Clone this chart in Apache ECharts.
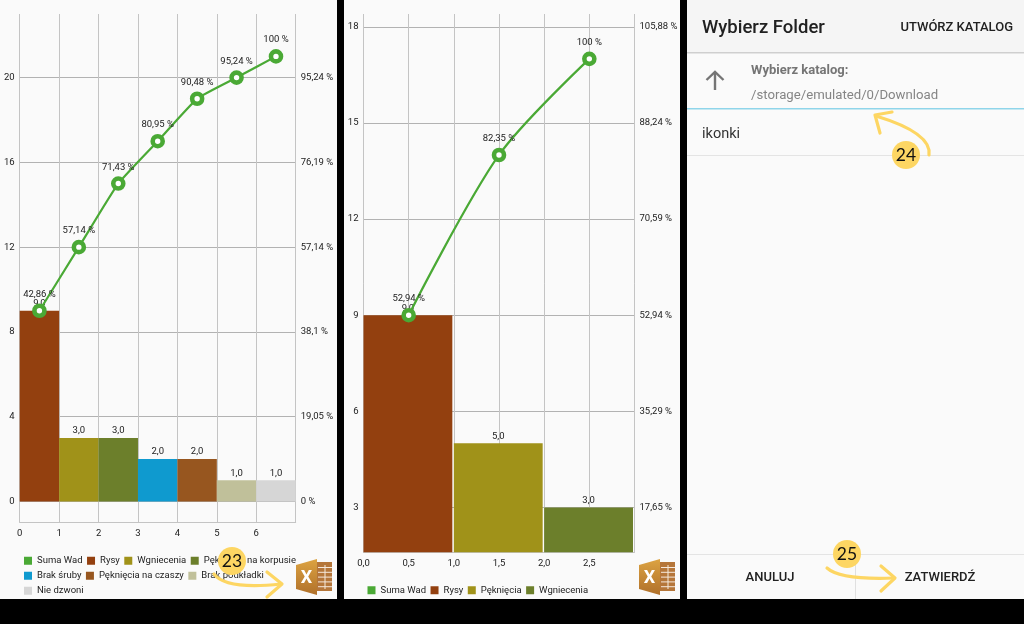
<!DOCTYPE html>
<html>
<head>
<meta charset="utf-8">
<style>
  html, body { margin: 0; padding: 0; background: #000; }
  #chart { width: 1024px; height: 624px; }
</style>
<script src="https://cdn.jsdelivr.net/npm/echarts@6/dist/echarts.min.js"></script>
</head>
<body>
<div id="chart"></div>
<script>
// left screen
const names1 = ["Rysy", "Wgniecenia", "Pęknięcia na korpusie", "Brak śruby", "Pęknięcia na czaszy", "Brak podkładki", "Nie dzwoni"];
const values1 = [9, 3, 3, 2, 2, 1, 1];
const colors1 = ["#93400f", "#a09219", "#6c7f2b", "#0f9acf", "#97561f", "#c0c09a", "#d6d6d6"];
const cumulative1 = [9, 12, 15, 17, 19, 20, 21];
const percents1 = ["42,86 %", "57,14 %", "71,43 %", "80,95 %", "90,48 %", "95,24 %", "100 %"];
const yTicks1 = [0, 4, 8, 12, 16, 20];
const yRight1 = ["0 %", "19,05 %", "38,1 %", "57,14 %", "76,19 %", "95,24 %"];
const xLabels1 = [0, 1, 2, 3, 4, 5, 6];
const xLines1 = [0, 1, 2, 3, 4, 5, 6, 7];

// middle screen
const names2 = ["Rysy", "Pęknięcia", "Wgniecenia"];
const values2 = [9, 5, 3];
const colors2 = ["#93400f", "#a09219", "#6c7f2b"];
const cumulative2 = [9, 14, 17];
const percents2 = ["52,94 %", "82,35 %", "100 %"];
const yTicks2 = [3, 6, 9, 12, 15, 18];
const yRight2 = ["17,65 %", "35,29 %", "52,94 %", "70,59 %", "88,24 %", "105,88 %"];
const xLabels2 = [0, 0.5, 1, 1.5, 2, 2.5];
const xLines2 = [0, 0.5, 1, 1.5, 2, 2.5, 3];

const totalName = "Suma Wad";
const green = "#4aa935";
const yellow = "#fdd663";
const textColor = "#222";
const font = "Roboto, sans-serif";

const chart = echarts.init(document.getElementById("chart"));

function comma(v) { return String(v).replace(".", ","); }

function barSeries(name, idx, value, color, axisIdx, yMin, gap) {
  return {
    name: name,
    type: "custom",
    xAxisIndex: axisIdx,
    yAxisIndex: axisIdx * 2,
    itemStyle: { color: color },
    data: [[idx, value]],
    z: 2,
    renderItem: function (params, api) {
      const x = api.value(0);
      const v = api.value(1);
      const a = api.coord([x, v]);
      const b = api.coord([x + 1, yMin]);
      return {
        type: "rect",
        shape: { x: a[0], y: a[1], width: b[0] - a[0] - gap, height: b[1] - a[1] },
        style: { fill: color },
        textContent: {
          style: { text: v.toFixed(1).replace(".", ","), font: "9.5px " + font, fill: textColor }
        },
        textConfig: { position: "top", distance: 2 }
      };
    }
  };
}

function lineSeries(cumulative, percents, axisIdx, smooth) {
  return {
    name: totalName,
    type: "line",
    xAxisIndex: axisIdx,
    yAxisIndex: axisIdx * 2,
    data: cumulative.map((v, i) => [i + 0.5, v]),
    smooth: smooth,
    symbol: "circle",
    symbolSize: 10,
    z: 3,
    lineStyle: { color: green, width: 2.2 },
    itemStyle: { color: "#fff", borderColor: green, borderWidth: 4.6 },
    label: {
      show: true,
      position: "top",
      distance: 4,
      color: textColor,
      fontFamily: font,
      fontSize: 9.5,
      formatter: p => percents[p.dataIndex]
    }
  };
}

function xAxis(gridIndex, max, lines, labels, fmt) {
  return {
    type: "value", gridIndex: gridIndex, min: 0, max: max,
    axisLine: { show: true, onZero: false, lineStyle: { color: "#c4c4c4", width: 1 } },
    axisTick: { show: false, customValues: lines },
    splitLine: { show: true, lineStyle: { color: "#c4c4c4", width: 1 } },
    axisLabel: { customValues: labels, margin: 6, color: textColor, fontFamily: font, fontSize: 9.5, formatter: fmt }
  };
}

function yAxis(gridIndex, pos, min, max, ticks, fmt, lines) {
  return {
    type: "value", gridIndex: gridIndex, position: pos, min: min, max: max,
    axisLine: { show: false },
    axisTick: { show: false, customValues: ticks },
    splitLine: { show: lines, lineStyle: { color: "#b2b2b2", width: 1 } },
    axisLabel: { customValues: ticks, margin: 5, color: textColor, fontFamily: font, fontSize: 9.5, formatter: fmt }
  };
}

function legend(names, colors, left, top, width) {
  return {
    left: left, top: top, width: width, padding: 0,
    icon: "rect", itemWidth: 8, itemHeight: 8, itemGap: 4.5,
    selectedMode: false,
    textStyle: { color: textColor, fontFamily: font, fontSize: 9.5, lineHeight: 10.5 },
    data: [{ name: totalName, itemStyle: { color: green, borderWidth: 0 } }].concat(
      names.map((n, i) => ({ name: n, itemStyle: { color: colors[i], borderWidth: 0 } }))
    )
  };
}

function txt(text, x, y, size, weight, color, align) {
  return {
    type: "text", x: x, y: y, z: 50,
    style: {
      text: text, fill: color, textAlign: align || "left", textVerticalAlign: "middle",
      font: weight + " " + size + "px " + font
    }
  };
}

function badge(label, x, y) {
  return [
    { type: "circle", z: 100, shape: { cx: x, cy: y, r: 14 }, style: { fill: yellow } },
    { type: "text", x: x, y: y + 0.5, z: 101, style: { text: label, fill: "#111", textAlign: "center", textVerticalAlign: "middle", font: "17.5px Lato, sans-serif" } }
  ];
}

function arrow(curve, head) {
  const st = { stroke: yellow, lineWidth: 3.2, fill: "none", lineCap: "round", lineJoin: "round" };
  return [
    { type: "bezierCurve", z: 99, shape: curve, style: st },
    { type: "polyline", z: 99, shape: { points: head }, style: st }
  ];
}

function excelIcon(x, y) {
  const els = [];
  els.push({ type: "rect", z: 60, shape: { x: x + 20, y: y + 3, width: 16, height: 29 }, style: { fill: "#b5763a" } });
  for (let r = 0; r < 5; r++) {
    els.push({ type: "rect", z: 61, shape: { x: x + 22, y: y + 8 + r * 4.8, width: 14, height: 1 }, style: { fill: "#f6e9dc" } });
  }
  els.push({ type: "rect", z: 61, shape: { x: x + 28.5, y: y + 6, width: 1, height: 24 }, style: { fill: "#f6e9dc" } });
  els.push({
    type: "polygon", z: 62,
    shape: { points: [[x, y + 6], [x + 21, y], [x + 21, y + 36], [x, y + 30]] },
    style: { fill: { type: "linear", x: 0, y: 0, x2: 0, y2: 1, colorStops: [{ offset: 0, color: "#dca342" }, { offset: 1, color: "#b0702a" }] } }
  });
  els.push({ type: "text", x: x + 10.5, y: y + 19, z: 63, style: { text: "X", fill: "#fff", textAlign: "center", textVerticalAlign: "middle", font: "bold 18px " + font } });
  return els;
}

const panels = [
  { type: "rect", z: -2, shape: { x: 0, y: 0, width: 337, height: 599 }, style: { fill: "#fafafa" } },
  { type: "rect", z: -2, shape: { x: 344, y: 0, width: 336, height: 599 }, style: { fill: "#fafafa" } },
  { type: "rect", z: -2, shape: { x: 687, y: 0, width: 337, height: 599 }, style: { fill: "#fafafa" } },
  { type: "rect", z: -1, shape: { x: 687, y: 0, width: 337, height: 52 }, style: { fill: "#f5f5f5" } },
  { type: "rect", z: -1, shape: { x: 687, y: 52, width: 337, height: 1.5 }, style: { fill: "#cfcfcf" } },
  { type: "rect", z: -1, shape: { x: 687, y: 108, width: 337, height: 1.5 }, style: { fill: "#8fd5ea" } },
  { type: "rect", z: -1, shape: { x: 687, y: 155, width: 337, height: 1 }, style: { fill: "#e4e4e4" } },
  { type: "rect", z: -1, shape: { x: 687, y: 554, width: 337, height: 1 }, style: { fill: "#e4e4e4" } },
  { type: "rect", z: -1, shape: { x: 855, y: 554, width: 1, height: 45 }, style: { fill: "#e0e0e0" } },
  { type: "polyline", z: 10, shape: { points: [[715, 90], [715, 73]] }, style: { stroke: "#757575", lineWidth: 2.4, fill: "none" } },
  { type: "polyline", z: 10, shape: { points: [[706.5, 80], [715, 72], [723.5, 80]] }, style: { stroke: "#757575", lineWidth: 2.4, fill: "none" } },
  txt("Wybierz Folder", 702, 28, 18.5, 500, "#212121"),
  txt("UTWÓRZ KATALOG", 1013, 28, 13, 500, "#212121", "right"),
  txt("Wybierz katalog:", 751, 71, 13, 700, "#757575"),
  txt("/storage/emulated/0/Download", 751, 95.5, 13.2, 400, "#858585"),
  txt("ikonki", 702, 134.5, 14.5, 400, "#333"),
  txt("ANULUJ", 770, 578, 13, 500, "#212121", "center"),
  txt("ZATWIERDŹ", 940, 578, 13, 500, "#212121", "center")
];

chart.setOption({
  backgroundColor: "#000",
  animation: false,
  grid: [
    { left: 19.7, top: 14, width: 276, height: 508.7 },
    { left: 363.5, top: 14, width: 271, height: 538.3 }
  ],
  xAxis: [
    xAxis(0, 7, xLines1, xLabels1, v => String(v)),
    xAxis(1, 3, xLines2, xLabels2, v => (Number.isInteger(v) ? v + ",0" : comma(v)))
  ],
  yAxis: [
    yAxis(0, "left", -1, 23, yTicks1, v => String(v), true),
    yAxis(0, "right", -1, 23, yTicks1, v => yRight1[yTicks1.indexOf(v)], false),
    yAxis(1, "left", 1.6, 18.4, yTicks2, v => String(v), true),
    yAxis(1, "right", 1.6, 18.4, yTicks2, v => yRight2[yTicks2.indexOf(v)], false)
  ],
  legend: [
    legend(names1, colors1, 24, 555.5, 275),
    legend(names2, colors2, 367.5, 585, 270)
  ],
  graphic: { elements: panels.concat(
    excelIcon(296, 559),
    excelIcon(639, 559),
    arrow({ x1: 214, y1: 574, cpx1: 226, cpy1: 590, x2: 281, y2: 584 }, [[267, 572], [282, 584], [267, 597]]),
    badge("23", 232, 561),
    arrow({ x1: 929, y1: 155, cpx1: 932, cpy1: 133, x2: 876, y2: 116 }, [[892, 112], [875, 115], [880, 133]]),
    badge("24", 906, 155),
    arrow({ x1: 827, y1: 568, cpx1: 840, cpy1: 580, x2: 894, y2: 578 }, [[881, 566], [895, 578], [881, 591]]),
    badge("25", 847, 554)
  ) },
  series: [
    lineSeries(cumulative1, percents1, 0, 0.15),
    lineSeries(cumulative2, percents2, 1, 0.3)
  ].concat(
    values1.map((v, i) => barSeries(names1[i], i, v, colors1[i], 0, 0, 0)),
    values2.map((v, i) => barSeries(names2[i], i, v, colors2[i], 1, 1.6, 1.5))
  )
});
</script>
</body>
</html>
